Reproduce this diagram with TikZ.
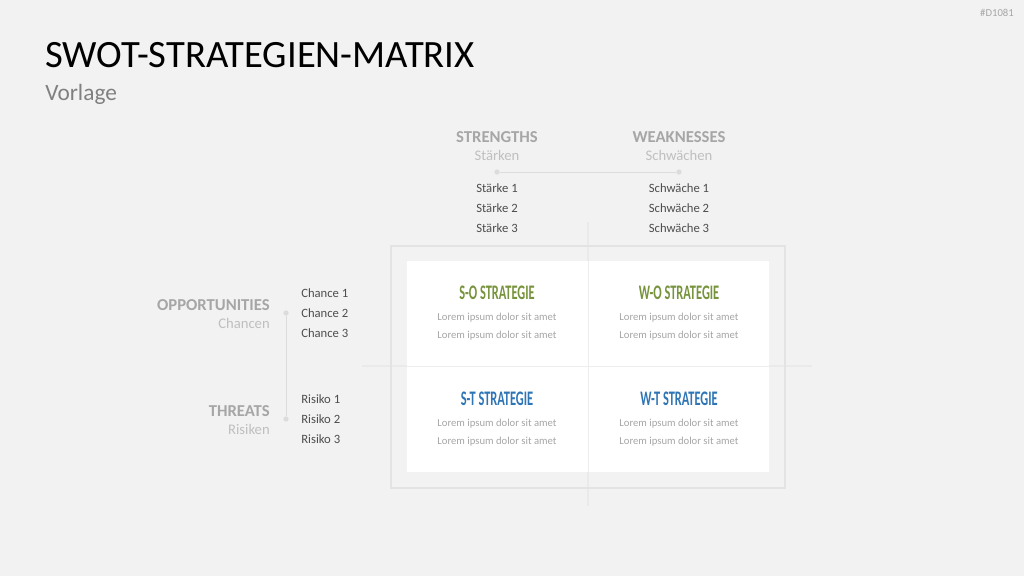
\documentclass[tikz,border=0pt]{standalone}
\usepackage{fontspec}
\setmainfont{Carlito}
\newfontfamily\condfam[FakeStretch=0.6]{Carlito}
\usetikzlibrary{positioning}
\definecolor{paper}   {HTML}{F2F2F2}
\definecolor{rule}    {HTML}{DCDCDC}
\definecolor{hdgray}  {HTML}{A6A6A6}
\definecolor{subgray} {HTML}{BFBFBF}
\definecolor{itemgray}{HTML}{4D4D4D}
\definecolor{sogreen} {HTML}{77933C}
\definecolor{stblue}  {HTML}{2E75B6}
\newcommand{\titlesize}{\fontsize{29}{35}\selectfont}
\newcommand{\subsize}  {\fontsize{17.5}{21}\selectfont}
\newcommand{\hdsize}   {\fontsize{12.5}{15}\selectfont}
\newcommand{\itemsize} {\fontsize{9.5}{11}\selectfont}
\newcommand{\loremsize}{\fontsize{8}{10}\selectfont}

\begin{document}
\begin{tikzpicture}[x=0.75pt,y=-0.75pt,
    hd/.style={font=\hdsize\bfseries, text=hdgray, inner sep=0pt},
    sub/.style={font=\fontsize{11}{13}\selectfont, text=subgray, inner sep=0pt},
    item/.style={font=\itemsize, text=itemgray, inner sep=0pt},
    strat/.style={font=\fontsize{15.5}{18}\selectfont\condfam\bfseries, inner sep=0pt},
    lorem/.style={font=\loremsize, text=hdgray, inner sep=0pt},
    dot/.style={circle, fill=rule, inner sep=0pt, minimum size=4pt}]
  \useasboundingbox[fill=paper] (0,0) rectangle (1024,576);
  % header
  \node[font=\fontsize{8}{9}\selectfont, text=hdgray, anchor=east, inner sep=0pt]
        (code) at (1014,13) {\#D1081};
  \node[font=\titlesize, anchor=west, inner sep=0pt] (title) at (45,55) {SWOT-STRATEGIEN-MATRIX};
  \node[font=\subsize, text=gray, anchor=west, inner sep=0pt] (vorlage) at (45,94) {Vorlage};
  % cross lines and frames
  \draw[rule!60, line width=0.8pt] (588,222) -- (588,506);
  \draw[rule!60, line width=0.8pt] (362,366) -- (812,366);
  \draw[rule!80, line width=0.8pt] (391,246) rectangle (785,488);
  \fill[white] (407,261) rectangle (769,472);
  \draw[rule!50, line width=0.7pt] (588,261) -- (588,472);
  \draw[rule!50, line width=0.7pt] (407,366) -- (769,366);
  % columns
  \foreach \x/\name/\hd/\sub/\itm in {
     497/s/STRENGTHS/St\"arken/St\"arke,
     679/w/WEAKNESSES/Schw\"achen/Schw\"ache} {
    \node[hd]  (\name hd)  at (\x,137) {\hd};
    \node[sub] (\name sub) at (\x,155) {\sub};
    \node[dot] (\name dot) at (\x,172) {};
    \foreach \i in {1,2,3}
      \node[item] (\name\i) at (\x,168+\i*20) {\itm\ \i};
  }
  \draw[rule, line width=0.7pt] (sdot) -- (wdot);
  % rows
  \foreach \y/\name/\hd/\sub/\itm in {
     305/o/OPPORTUNITIES/Chancen/Chance,
     411/t/THREATS/Risiken/Risiko} {
    \node[hd, anchor=east]  (\name hd)  at (270,\y) {\hd};
    \node[sub, anchor=east] (\name sub) at (270,\y+18) {\sub};
    \node[dot] (\name dot) at (286,\y+8) {};
    \foreach \i in {1,2,3}
      \node[item, anchor=west] (\name\i) at (301,\y-32+\i*20) {\itm\ \i};
  }
  \draw[rule, line width=0.7pt] (odot) -- (tdot);
  % strategy cells
  \foreach \x/\y/\name/\lab/\col in {
     497/293/so/S-O STRATEGIE/sogreen,
     679/293/wo/W-O STRATEGIE/sogreen,
     497/399/st/S-T STRATEGIE/stblue,
     679/399/wt/W-T STRATEGIE/stblue} {
    \node[strat, text=\col] (\name) at (\x,\y) {\lab};
    \node[lorem] (\name a) at (\x,\y+25) {Lorem ipsum dolor sit amet};
    \node[lorem] (\name b) at (\x,\y+43) {Lorem ipsum dolor sit amet};
  }
\end{tikzpicture}
\end{document}
